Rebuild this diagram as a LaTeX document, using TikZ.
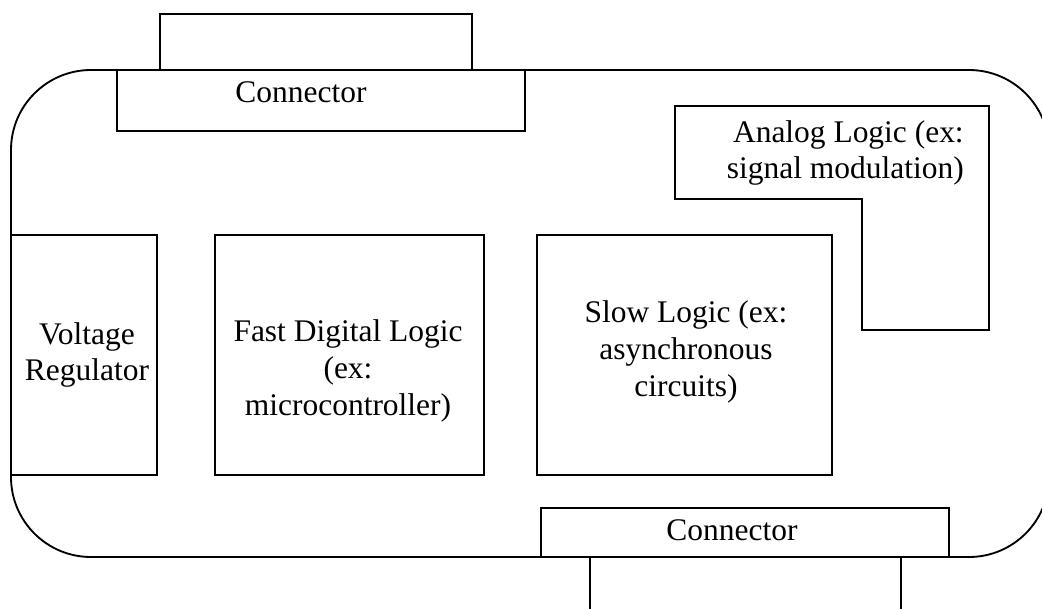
\documentclass[tikz,border=0pt]{standalone}
\usepackage{fontspec}
\setmainfont{Liberation Serif}
\begin{document}
\begin{tikzpicture}[x=0.75pt,y=-0.75pt,
  boxline/.style={draw=black,line width=1.7pt,fill=white},
  outerline/.style={draw=black,line width=1.4pt},
  lbl/.style={inner sep=0pt,align=center,font=\fontsize{23.6pt}{27.7pt}\selectfont},
  lblr/.style={inner sep=0pt,align=right,font=\fontsize{23.6pt}{27.7pt}\selectfont}]
\useasboundingbox (0,0) rectangle (1042,609);
\clip (0,0) rectangle (1042,609);
% outer board
\draw[outerline,rounded corners=60pt] (11,70) rectangle (1049,557);
% top connector
\draw[boxline] (160,14) rectangle (472,70);
\draw[boxline] (117,70) rectangle (525,131);
\node[lbl] (ctop) at (301,92) {Connector};
% bottom connector
\draw[boxline] (590,557) rectangle (901,625);
\draw[boxline] (541,508) rectangle (949,557);
\node[lbl] (cbot) at (732,530) {Connector};
% analog L-shape
\draw[boxline] (675,106) -- (989,106) -- (989,330) -- (862,330) -- (862,199) -- (675,199) -- cycle;
\node[lblr,anchor=east] (analog) at (964,153) {Analog Logic (ex:\\signal modulation)};
% voltage regulator
\draw[boxline] (11,235) rectangle (157,475);
\node[lbl] (volt) at (87,355) {Voltage\\Regulator};
% fast digital logic
\draw[boxline] (215,235) rectangle (484,475);
\node[lbl] (fast) at (348,371) {Fast Digital Logic\\(ex:\\microcontroller)};
% slow logic
\draw[boxline] (537,235) rectangle (832,475);
\node[lbl] (slow) at (686,352) {Slow Logic (ex:\\asynchronous\\circuits)};
\end{tikzpicture}
\end{document}
